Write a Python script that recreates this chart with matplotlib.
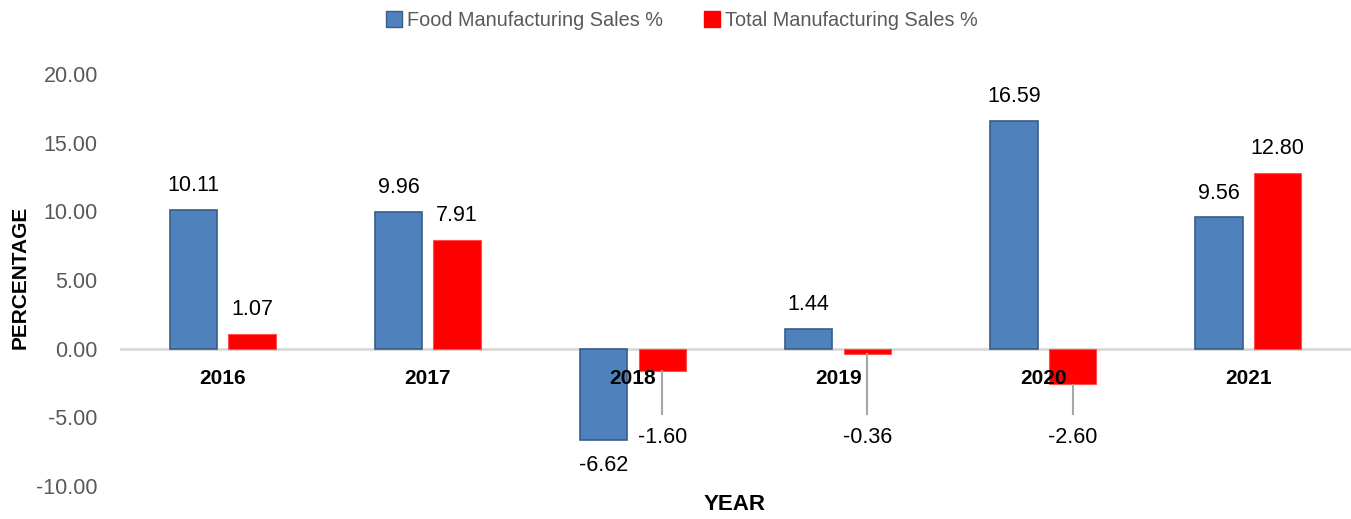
import numpy as np
import matplotlib
matplotlib.use("Agg")
import matplotlib.pyplot as plt
from matplotlib.lines import Line2D

years = ["2016", "2017", "2018", "2019", "2020", "2021"]
food_sales = [10.11, 9.96, -6.62, 1.44, 16.59, 9.56]
total_sales = [1.07, 7.91, -1.60, -0.36, -2.60, 12.80]

plt.rcParams["font.family"] = ["Liberation Sans", "DejaVu Sans"]

BLUE = "#4F81BD"
BLUE_EDGE = "#385D8A"
RED = "#FF0000"
GREY_TXT = "#595959"

fig = plt.figure(figsize=(13.51, 5.19), dpi=100)
ax = fig.add_axes([120 / 1351, 1 - 486 / 519, 1 - 120 / 1351, (486 - 74) / 519])

x = np.arange(len(years))
w = 0.23
off = 0.143
ax.bar(x - off, food_sales, w, color=BLUE, edgecolor=BLUE_EDGE, linewidth=1.2, zorder=3)
ax.bar(x + off, total_sales, w, color=RED, edgecolor="#FF5050", linewidth=0.8, zorder=3)

ax.set_xlim(-0.5, len(years) - 0.5)
ax.set_ylim(-10, 20)
ax.set_yticks(np.arange(-10, 21, 5))
ax.set_yticklabels([f"{v:.2f}" for v in np.arange(-10, 21, 5)])
ax.tick_params(axis="y", length=0, labelsize=15.5, labelcolor=GREY_TXT, pad=16)
ax.set_xticks([])
for s in ax.spines.values():
    s.set_visible(False)
ax.axhline(0, color="#D9D9D9", lw=2, zorder=2)

# year labels sit just under the zero line
for i, yr in enumerate(years):
    ax.annotate(yr, (i, 0), xytext=(0, -21.5), textcoords="offset points",
                ha="center", va="center", fontsize=15, fontweight="bold", zorder=5)

# value labels
for i, v in enumerate(food_sales):
    dy = 17.5 if v >= 0 else -18.5
    ax.annotate(f"{v:.2f}", (i - off, v), xytext=(0, dy), textcoords="offset points",
                ha="center", va="center", fontsize=15.5)
for i, v in enumerate(total_sales):
    if v >= 0:
        ax.annotate(f"{v:.2f}", (i + off, v), xytext=(0, 17.5), textcoords="offset points",
                    ha="center", va="center", fontsize=15.5)
    else:
        # leader line down to the label
        ax.plot([i + off, i + off], [v - 0.05, -4.75], color="#A6A6A6", lw=1.5, zorder=4)
        ax.text(i + off, -6.5, f"{v:.2f}", ha="center", va="center", fontsize=15.5)

fig.text(20 / 1351, 1 - 277 / 519, "PERCENTAGE", rotation=90, ha="center", va="center",
         fontsize=15, fontweight="bold")
fig.text(735 / 1351, 1 - 505 / 519, "YEAR", ha="center", va="center",
         fontsize=16, fontweight="bold")

handles = [Line2D([], [], marker="s", ls="", markersize=11, markerfacecolor=BLUE, markeredgecolor=BLUE_EDGE),
           Line2D([], [], marker="s", ls="", markersize=11, markerfacecolor=RED, markeredgecolor=RED)]
fig.legend(handles, ["Food Manufacturing Sales %", "Total Manufacturing Sales %"],
           loc="center", bbox_to_anchor=(681 / 1351, 1 - 20 / 519), ncol=2, frameon=False,
           fontsize=14.3, labelcolor=GREY_TXT, handletextpad=0.15, columnspacing=2.0,
           handlelength=1.0)

fig.savefig("out.png", dpi=100)
